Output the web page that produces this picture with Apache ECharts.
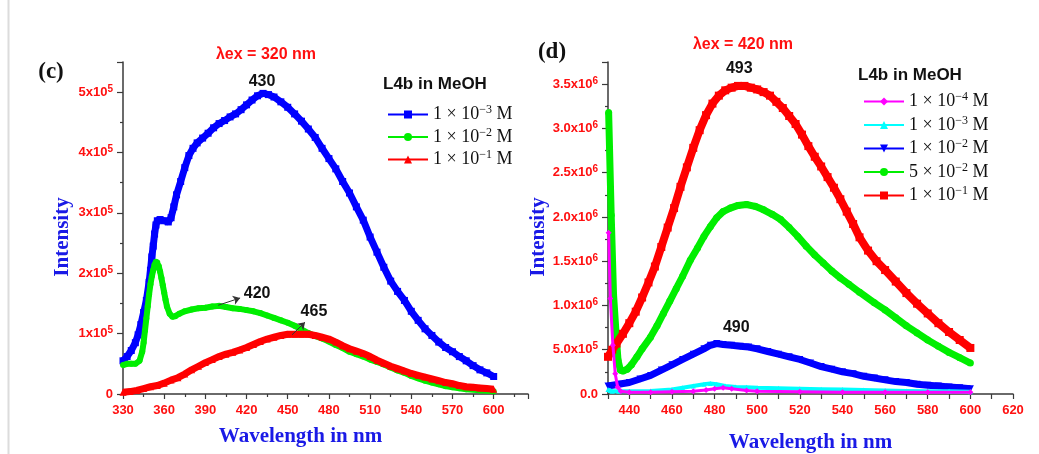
<!DOCTYPE html>
<html>
<head>
<meta charset="utf-8">
<script src="https://cdn.jsdelivr.net/npm/echarts@6/dist/echarts.min.js"></script>
<style>
  html, body { margin: 0; padding: 0; background: #fff; }
  #chart { width: 1039px; height: 454px; }
</style>
</head>
<body>
<div id="chart"></div>
<script>
// ---------- Panel (c): λex = 320 nm, intensities in units of 1e5 ----------
const cBlueNm = [330,333,336,339,341,343,345,347,349,350,351,352,353,354,355,357,360,363,365,367,369,372,375,378,381,384,388,392,396,400,404,408,412,416,420,424,428,432,436,440,445,450,455,460,465,470,475,480,485,490,495,500,505,510,515,520,525,530,535,540,545,550,555,560,565,570,575,580,585,590,595,600];
const cBlueI  = [0.55,0.62,0.72,0.85,0.98,1.15,1.35,1.55,1.85,2.05,2.27,2.45,2.65,2.80,2.87,2.89,2.87,2.85,2.92,3.10,3.30,3.52,3.75,3.95,4.07,4.16,4.24,4.32,4.41,4.48,4.53,4.59,4.64,4.71,4.79,4.87,4.94,4.98,4.96,4.92,4.84,4.75,4.64,4.52,4.39,4.25,4.07,3.90,3.73,3.52,3.33,3.10,2.88,2.60,2.35,2.10,1.87,1.70,1.55,1.37,1.22,1.08,0.97,0.86,0.77,0.70,0.62,0.55,0.47,0.40,0.35,0.29];

const cGreenNm = [330,333,336,339,342,344,345,346,347,348,349,350,351,352,353,354,355,356,357,358,359,360,361,362,364,366,368,371,375,380,385,390,395,400,405,410,415,420,425,430,435,440,445,450,455,460,465,470,475,480,485,490,495,500,505,510,515,520,525,530,535,540,545,550,555,560,565,570,575,580,590,600];
const cGreenI  = [0.48,0.50,0.50,0.50,0.55,0.70,0.85,1.05,1.25,1.45,1.65,1.82,1.95,2.05,2.14,2.19,2.18,2.12,2.03,1.92,1.80,1.68,1.56,1.45,1.33,1.28,1.29,1.33,1.37,1.40,1.42,1.43,1.45,1.46,1.44,1.42,1.41,1.39,1.37,1.34,1.30,1.26,1.22,1.18,1.13,1.07,1.01,0.96,0.92,0.87,0.81,0.76,0.70,0.66,0.62,0.57,0.53,0.49,0.44,0.39,0.35,0.30,0.26,0.22,0.19,0.16,0.13,0.11,0.095,0.08,0.06,0.045];

const cRedNm = [330,335,340,345,350,355,360,365,370,375,380,385,390,395,400,405,410,415,420,425,430,435,440,445,450,455,460,465,470,475,480,485,490,495,500,505,510,515,520,525,530,535,540,545,550,555,560,565,570,575,580,585,590,595,600];
const cRedI  = [0.03,0.04,0.06,0.09,0.12,0.14,0.18,0.23,0.27,0.33,0.40,0.46,0.52,0.57,0.62,0.66,0.69,0.73,0.77,0.82,0.87,0.91,0.94,0.97,0.99,0.99,0.99,0.99,0.97,0.94,0.91,0.86,0.80,0.75,0.71,0.67,0.62,0.56,0.51,0.46,0.42,0.38,0.34,0.31,0.28,0.25,0.22,0.19,0.17,0.14,0.12,0.11,0.10,0.09,0.08];

// ---------- Panel (d): λex = 420 nm, intensities in units of 1e6 ----------
const dMagentaNm = [430.3,431.1,432.3,433.4,434.5,436,440,450,460,470,476,480,484,488,495,500,520,540,560,580,600];
const dMagentaI  = [1.82,1.08,0.55,0.23,0.08,0.03,0.02,0.02,0.025,0.03,0.045,0.06,0.07,0.06,0.04,0.03,0.025,0.02,0.02,0.02,0.02];

const dCyanNm = [430,431,432,435,440,450,460,465,470,475,478,481,485,490,495,500,510,520,530,540,550,560,570,580,590,600];
const dCyanI  = [0.05,0.04,0.03,0.03,0.03,0.035,0.05,0.07,0.09,0.11,0.12,0.11,0.09,0.08,0.075,0.07,0.065,0.06,0.055,0.05,0.045,0.04,0.035,0.03,0.03,0.025];

const dBlueNm = [430,435,440,445,450,455,460,465,470,475,478,481,484,488,492,496,500,505,510,515,520,525,530,535,540,545,550,555,560,565,570,575,580,585,590,595,600];
const dBlueI  = [0.09,0.11,0.13,0.17,0.21,0.27,0.33,0.39,0.45,0.51,0.55,0.57,0.56,0.55,0.54,0.53,0.51,0.48,0.45,0.42,0.39,0.35,0.31,0.28,0.25,0.23,0.20,0.18,0.16,0.14,0.13,0.11,0.10,0.09,0.08,0.07,0.06];

const dGreenNm = [430.3,431.5,432.6,433.9,434.7,435.8,437,439,441,443.6,446,449.9,453,456,459,462,465,468.6,472,475,478,481,484,487.4,491,495,499,503,507,511,515,519,523,527,531,535,539,543,548,555,560,565,570,575,580,585,590,595,600];
const dGreenI  = [3.18,2.02,1.12,0.64,0.38,0.27,0.26,0.28,0.33,0.42,0.51,0.64,0.77,0.91,1.05,1.19,1.33,1.51,1.65,1.78,1.89,1.99,2.06,2.10,2.13,2.14,2.12,2.08,2.03,1.97,1.88,1.78,1.67,1.57,1.48,1.39,1.31,1.24,1.15,1.03,0.95,0.86,0.77,0.69,0.61,0.54,0.47,0.41,0.35];

const dRedNm = [430,432,434,437,440,443,446,449,452,455,458,461,464,467,470,473,476,479,482,485,488,491,494,497,500,503,506,509,512,515,518,521,524,527,530,533,536,539,542,545,548,552,556,560,565,570,575,580,585,590,595,600];
const dRedI  = [0.42,0.50,0.57,0.68,0.80,0.93,1.09,1.26,1.44,1.66,1.88,2.10,2.34,2.56,2.78,2.98,3.15,3.28,3.37,3.43,3.46,3.48,3.48,3.46,3.44,3.41,3.37,3.30,3.23,3.14,3.05,2.93,2.80,2.68,2.57,2.45,2.33,2.20,2.06,1.92,1.77,1.62,1.50,1.40,1.27,1.14,1.02,0.91,0.80,0.70,0.61,0.52];

// Legend entries: [mantissa, exponent] of the concentration in M
const cConc = [['1','−3'], ['1','−2'], ['1','−1']];
const dConc = [['1','−4'], ['1','−3'], ['1','−2'], ['5','−2'], ['1','−1']];

const UNIT_C = 1e5;
const UNIT_D = 1e6;

const SERIF = '"Liberation Serif", "Times New Roman", serif';
const SANS = '"Liberation Sans", Arial, sans-serif';
const RED_TXT = '#ff1010';
const BLUE_TXT = '#1a1ae6';
const AXIS_CLR = '#3a3a3a';

function pairs(xs, ys, unit) {
  return xs.map((x, i) => [x, ys[i] * unit]);
}

function concLabel(c) {
  return '{n|' + c[0] + ' × 10}{s|' + c[1] + '}{n| M}';
}

const legendNames = {};
const cIds = ['c-a', 'c-b', 'c-c'];
const dIds = ['d-a', 'd-b', 'd-c', 'd-d', 'd-e'];
cIds.forEach((id, i) => { legendNames[id] = concLabel(cConc[i]); });
dIds.forEach((id, i) => { legendNames[id] = concLabel(dConc[i]); });

const tickLabelRich = {
  m: { fontFamily: SANS, fontWeight: 'bold', fontSize: 13, color: RED_TXT, lineHeight: 16 },
  s: { fontFamily: SANS, fontWeight: 'bold', fontSize: 10, color: RED_TXT, lineHeight: 11, verticalAlign: 'top' }
};

const legendRich = {
  n: { fontFamily: SERIF, fontSize: 18, color: '#111', lineHeight: 21 },
  s: { fontFamily: SERIF, fontSize: 12, color: '#111', lineHeight: 12, verticalAlign: 'top' }
};

const axisLineStyle = { color: AXIS_CLR, width: 1.5 };
const tickStyle = { color: AXIS_CLR, width: 1.2 };

function axisName(text, gap, pad, rotate) {
  return {
    name: text, nameLocation: 'middle', nameGap: gap, nameRotate: rotate,
    nameTextStyle: { fontFamily: SERIF, fontWeight: 'bold', fontSize: 21, color: BLUE_TXT, padding: pad }
  };
}

const option = {
  animation: false,
  backgroundColor: '#ffffff',
  grid: [
    { left: 123, top: 62, width: 405, height: 332, outerBoundsMode: 'none' },
    { left: 608, top: 62, width: 405, height: 332, outerBoundsMode: 'none' }
  ],
  xAxis: [
    Object.assign({
      type: 'value', gridIndex: 0, min: 330, max: 625, interval: 30,
      axisLine: { show: true, onZero: false, lineStyle: axisLineStyle },
      axisTick: { show: true, length: 5, lineStyle: tickStyle },
      minorTick: { show: true, splitNumber: 2, length: 3, lineStyle: tickStyle },
      splitLine: { show: false },
      axisLabel: {
        margin: 10, fontFamily: SANS, fontWeight: 'bold', fontSize: 13, color: RED_TXT,
        formatter: v => (v <= 600 && (v - 330) % 30 === 0) ? String(v) : ''
      }
    }, axisName('Wavelength in nm', 32, [0, 50, 0, 0], 0)),
    Object.assign({
      type: 'value', gridIndex: 1, min: 430, max: 620, interval: 10,
      axisLine: { show: true, onZero: false, lineStyle: axisLineStyle },
      axisTick: { show: true, length: 5, lineStyle: tickStyle },
      splitLine: { show: false },
      axisLabel: {
        margin: 10, fontFamily: SANS, fontWeight: 'bold', fontSize: 13, color: RED_TXT,
        formatter: v => (v % 20 === 0) ? String(v) : ''
      }
    }, axisName('Wavelength in nm', 38, [0, 0, 0, 0], 0))
  ],
  yAxis: [
    Object.assign({
      type: 'value', gridIndex: 0, min: 0, max: 5.5e5, interval: 1e5,
      axisLine: { show: true, lineStyle: axisLineStyle },
      axisTick: { show: true, length: 6, lineStyle: tickStyle },
      minorTick: { show: true, splitNumber: 2, length: 3, lineStyle: tickStyle },
      splitLine: { show: false },
      axisLabel: {
        margin: 10,
        rich: tickLabelRich,
        formatter: v => {
          if (v === 0) return '{m|0}';
          if (v > 5e5 + 1) return '';
          return '{m|' + Math.round(v / 1e5) + 'x10}{s|5}';
        }
      }
    }, axisName('Intensity', 50, [0, 18, 0, 0], 90)),
    Object.assign({
      type: 'value', gridIndex: 1, min: 0, max: 3.75e6, interval: 5e5,
      axisLine: { show: true, lineStyle: axisLineStyle },
      axisTick: { show: true, length: 6, lineStyle: tickStyle },
      minorTick: { show: true, splitNumber: 2, length: 3, lineStyle: tickStyle },
      splitLine: { show: false },
      axisLabel: {
        margin: 10,
        rich: tickLabelRich,
        formatter: v => {
          if (v === 0) return '{m|0.0}';
          if (v > 3.5e6 + 1) return '';
          if (v < 1e6) return '{m|' + (v / 1e5).toFixed(1) + 'x10}{s|5}';
          return '{m|' + (v / 1e6).toFixed(1) + 'x10}{s|6}';
        }
      }
    }, axisName('Intensity', 59, [0, 18, 0, 0], 90))
  ],
  legend: [
    {
      orient: 'vertical', left: 387, top: 104, padding: 0,
      itemWidth: 40, itemHeight: 10, itemGap: 3,
      data: cIds,
      formatter: name => legendNames[name],
      textStyle: { rich: legendRich },
      lineStyle: { width: 2 },
      selectedMode: false
    },
    {
      orient: 'vertical', left: 863, top: 91, padding: 0,
      itemWidth: 40, itemHeight: 10, itemGap: 4,
      data: dIds,
      formatter: name => legendNames[name],
      textStyle: { rich: legendRich },
      lineStyle: { width: 2 },
      selectedMode: false
    }
  ],
  graphic: [
    { type: 'line', shape: { x1: 8.5, y1: 0, x2: 8.5, y2: 454 }, style: { stroke: '#dcdcdc', lineWidth: 2 }, silent: true },
    { type: 'text', x: 51, y: 72, style: { text: '(c)', font: 'bold 23px ' + SERIF, fill: '#111', textAlign: 'center', textVerticalAlign: 'middle' } },
    { type: 'text', x: 552, y: 52, style: { text: '(d)', font: 'bold 23px ' + SERIF, fill: '#111', textAlign: 'center', textVerticalAlign: 'middle' } },
    { type: 'text', x: 266, y: 55, style: { text: 'λex = 320 nm', font: 'bold 16px ' + SANS, fill: RED_TXT, textAlign: 'center', textVerticalAlign: 'middle' } },
    { type: 'text', x: 743, y: 45, style: { text: 'λex = 420 nm', font: 'bold 16px ' + SANS, fill: RED_TXT, textAlign: 'center', textVerticalAlign: 'middle' } },
    { type: 'text', x: 383, y: 84, style: { text: 'L4b in MeOH', font: 'bold 17px ' + SANS, fill: '#111', textAlign: 'left', textVerticalAlign: 'middle' } },
    { type: 'text', x: 858, y: 75, style: { text: 'L4b in MeOH', font: 'bold 17px ' + SANS, fill: '#111', textAlign: 'left', textVerticalAlign: 'middle' } }
  ],
  series: []
};

function peakLabel(text, x, y) {
  return {
    coord: [x, y], value: text,
    symbol: 'rect', symbolSize: 1,
    itemStyle: { color: 'rgba(0,0,0,0)' },
    label: { show: true, position: 'inside', formatter: text, fontFamily: SANS, fontWeight: 'bold', fontSize: 16, color: '#111' }
  };
}

function arrow(x1, y1, x2, y2) {
  return [{ coord: [x1, y1] }, { coord: [x2, y2] }];
}

function arrowLines(list) {
  return {
    silent: true, symbol: ['none', 'arrow'], symbolSize: 7,
    lineStyle: { color: '#333', width: 1, type: 'solid' }, label: { show: false },
    data: list
  };
}

function lineSeries(id, gridIdx, data, color, symbol, width, size, z, extra) {
  return Object.assign({
    type: 'line', name: id,
    xAxisIndex: gridIdx, yAxisIndex: gridIdx,
    data, smooth: false,
    symbol, symbolSize: size, showSymbol: true,
    itemStyle: { color },
    lineStyle: { color, width },
    z,
    emphasis: { disabled: true }
  }, extra || {});
}

option.series = [
  lineSeries('c-a', 0, pairs(cBlueNm, cBlueI, UNIT_C), '#0000ff', 'rect', 7, 7, 2, {
    markPoint: { silent: true, data: [peakLabel('430', 431.3, 5.17e5)] }
  }),
  lineSeries('c-b', 0, pairs(cGreenNm, cGreenI, UNIT_C), '#00ee00', 'circle', 6, 6, 3, {
    markPoint: { silent: true, data: [peakLabel('420', 427.7, 1.66e5)] },
    markLine: arrowLines([arrow(399.3, 1.47e5, 415.3, 1.59e5)])
  }),
  lineSeries('c-c', 0, pairs(cRedNm, cRedI, UNIT_C), '#ff0000', 'triangle', 7, 7, 4, {
    markPoint: { silent: true, data: [peakLabel('465', 469.1, 1.37e5)] },
    markLine: arrowLines([arrow(453.1, 0.98e5, 462.6, 1.19e5)])
  }),
  lineSeries('d-a', 1, pairs(dMagentaNm, dMagentaI, UNIT_D), '#ff00ff', 'diamond', 3, 6, 7),
  lineSeries('d-b', 1, pairs(dCyanNm, dCyanI, UNIT_D), '#00ffff', 'triangle', 4, 5, 6),
  lineSeries('d-c', 1, pairs(dBlueNm, dBlueI, UNIT_D), '#0000ff', 'triangle', 7, 7, 3, {
    symbolRotate: 180,
    markPoint: { silent: true, data: [peakLabel('490', 490.2, 0.75e6)] }
  }),
  lineSeries('d-d', 1, pairs(dGreenNm, dGreenI, UNIT_D), '#00ee00', 'circle', 7, 7, 4),
  lineSeries('d-e', 1, pairs(dRedNm, dRedI, UNIT_D), '#ff0000', 'rect', 8, 8, 5, {
    markPoint: { silent: true, data: [peakLabel('493', 491.6, 3.67e6)] }
  })
];

const chart = echarts.init(document.getElementById('chart'), null, { renderer: 'canvas' });
chart.setOption(option);
</script>
</body>
</html>
